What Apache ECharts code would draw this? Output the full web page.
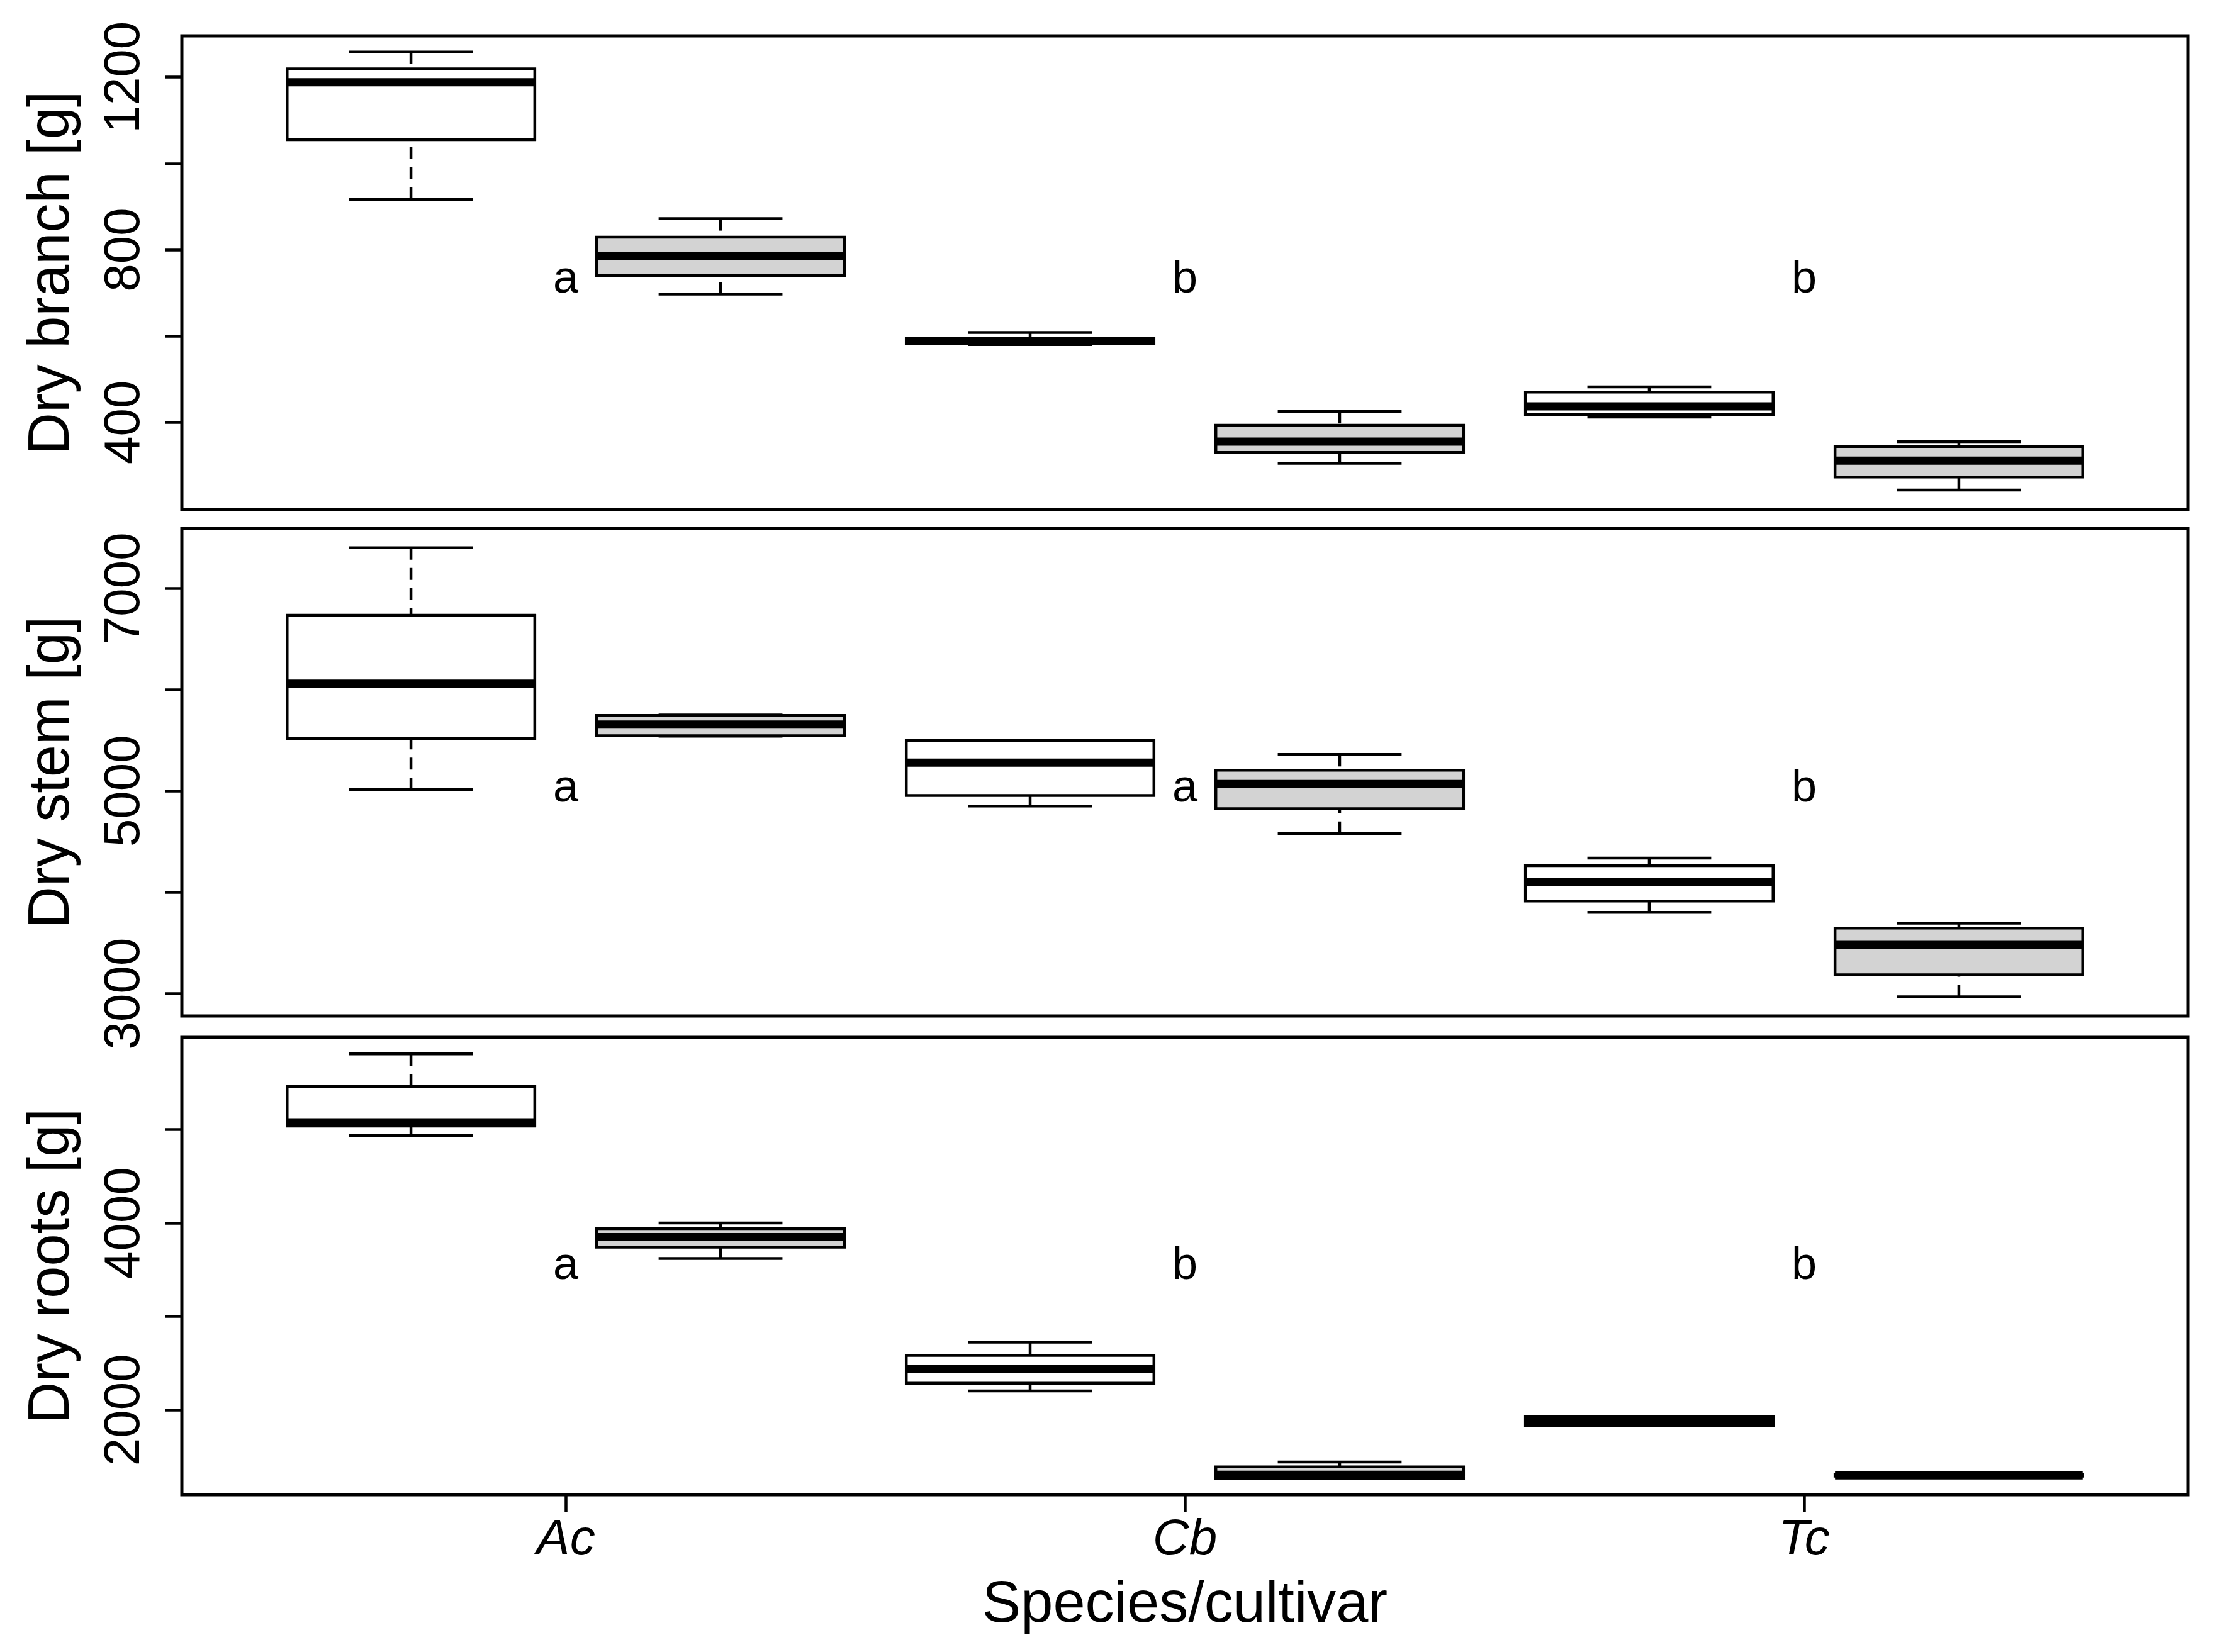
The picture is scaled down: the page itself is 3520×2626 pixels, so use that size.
<!DOCTYPE html>
<html><head><meta charset="utf-8">
<script src="https://cdn.jsdelivr.net/npm/echarts@6/dist/echarts.min.js"></script>
<style>html,body{margin:0;padding:0;background:#fff}#c{width:3520px;height:2626px}</style>
</head><body><div id="c"></div>
<script>
// ---- data ----
const species = ['Ac', 'Cb', 'Tc'];
const speciesPos = [1.5, 3.5, 5.5];          // group centres on the box axis
const boxPos = [1, 2, 3, 4, 5, 6];
const boxFill = [0, 1, 0, 1, 0, 1];          // 0 = white, 1 = light grey
// each box: [lower whisker, Q1, median, Q3, upper whisker]
const branchStats = [
  [917, 1055, 1188, 1219, 1258],
  [697, 740, 785, 829, 872],
  [580, 583, 589, 594, 608],
  [305, 330, 355, 393, 425],
  [412, 418, 437, 470, 482],
  [243, 273, 311, 344, 355]
];
const stemStats = [
  [5013, 5519, 6059, 6734, 7400],
  [5540, 5545, 5655, 5745, 5750],
  [4851, 4955, 5279, 5497, 5497],
  [4581, 4825, 5068, 5205, 5360],
  [3802, 3913, 4101, 4263, 4338],
  [2968, 3185, 3481, 3646, 3695]
];
const rootsStats = [
  [4935, 5035, 5075, 5458, 5807],
  [3620, 3741, 3848, 3939, 4000],
  [2203, 2285, 2436, 2583, 2725],
  [1265, 1270, 1306, 1391, 1443],
  [1828, 1828, 1879, 1930, 1930],
  [1290, 1292, 1300, 1308, 1310]
];
const branchLetters = ['a', 'b', 'b'];
const stemLetters = ['a', 'a', 'b'];
const rootsLetters = ['a', 'b', 'b'];
const letterY = [730, 5020, 3532];
const branchTicks = [400, 600, 800, 1000, 1200];
const branchTickLabels = [400, 800, 1200];
const stemTicks = [3000, 4000, 5000, 6000, 7000];
const stemTickLabels = [3000, 5000, 7000];
const rootsTicks = [2000, 3000, 4000, 5000];
const rootsTickLabels = [2000, 4000];
const yTitles = ['Dry branch [g]', 'Dry stem [g]', 'Dry roots [g]'];
const xTitle = 'Species/cultivar';

// ---- layout / style ----
const FONT = "'Liberation Sans', Arial, sans-serif";
const fills = ['#ffffff', '#d3d3d3'];
const LW = 4.5;
const panels = [
  {stats: branchStats, letters: branchLetters, ticks: branchTicks, labels: branchTickLabels, min: 197.7, max: 1295.7, top: 57, height: 753},
  {stats: stemStats, letters: stemLetters, ticks: stemTicks, labels: stemTickLabels, min: 2779, max: 7591, top: 840, height: 775},
  {stats: rootsStats, letters: rootsLetters, ticks: rootsTicks, labels: rootsTickLabels, min: 1093, max: 5984, top: 1649, height: 727}
];

function boxRender(params, api) {
  const x = api.value(0), lo = api.value(1), q1 = api.value(2), md = api.value(3), q3 = api.value(4), hi = api.value(5);
  const fill = fills[api.value(6)];
  const hw = 0.4, sw = 0.2;
  const a = api.coord([x - hw, q3]), b = api.coord([x + hw, q1]);
  const mL = api.coord([x - hw, md]), mR = api.coord([x + hw, md]);
  const cHi = api.coord([x, hi]), cQ3 = api.coord([x, q3]), cQ1 = api.coord([x, q1]), cLo = api.coord([x, lo]);
  const sHiL = api.coord([x - sw, hi]), sHiR = api.coord([x + sw, hi]);
  const sLoL = api.coord([x - sw, lo]), sLoR = api.coord([x + sw, lo]);
  const ln = {stroke: '#000', lineWidth: LW, lineCap: 'butt'};
  const dash = Object.assign({}, ln, {lineDash: [19, 13]});
  return {type: 'group', children: [
    {type: 'line', shape: {x1: cHi[0], y1: cHi[1], x2: cQ3[0], y2: cQ3[1]}, style: dash},
    {type: 'line', shape: {x1: cLo[0], y1: cLo[1], x2: cQ1[0], y2: cQ1[1]}, style: dash},
    {type: 'line', shape: {x1: sHiL[0], y1: sHiL[1], x2: sHiR[0], y2: sHiR[1]}, style: ln},
    {type: 'line', shape: {x1: sLoL[0], y1: sLoL[1], x2: sLoR[0], y2: sLoR[1]}, style: ln},
    {type: 'rect', shape: {x: a[0], y: a[1], width: b[0] - a[0], height: b[1] - a[1]}, style: {fill: fill, stroke: '#000', lineWidth: LW}},
    {type: 'line', shape: {x1: mL[0], y1: mL[1], x2: mR[0], y2: mR[1]}, style: {stroke: '#000', lineWidth: 13, lineCap: 'butt'}}
  ]};
}

function makeLetterRender(letters) {
  return function (params, api) {
    const p = api.coord([api.value(0), api.value(1)]);
    return {type: 'text', x: p[0], y: p[1], style: {
      text: letters[params.dataIndex], fill: '#000', fontSize: 72, fontFamily: FONT,
      align: 'center', verticalAlign: 'middle'}};
  };
}

const grids = [], xAxes = [], yAxes = [], series = [];
panels.forEach((pn, i) => {
  const last = i === panels.length - 1;
  grids.push({left: 289, top: pn.top, width: 3188, height: pn.height, show: true,
    borderColor: '#000', borderWidth: 5, backgroundColor: 'transparent', containLabel: false, outerBoundsMode: 'none'});
  xAxes.push({type: 'value', gridIndex: i, min: 0.26, max: 6.74,
    axisLine: {show: false}, splitLine: {show: false},
    axisTick: {show: last, customValues: speciesPos, length: 27, inside: false, lineStyle: {color: '#000', width: LW}},
    axisLabel: {show: last, customValues: speciesPos, margin: 33, color: '#000', fontSize: 80, fontStyle: 'italic', fontFamily: FONT,
      formatter: v => species[speciesPos.indexOf(v)] || ''},
    name: last ? xTitle : '', nameLocation: 'middle', nameGap: 131, nameMoveOverlap: false,
    nameTextStyle: {color: '#000', fontSize: 92, fontFamily: FONT}});
  yAxes.push({type: 'value', gridIndex: i, min: pn.min, max: pn.max,
    axisLine: {show: false}, splitLine: {show: false},
    axisTick: {show: true, customValues: pn.ticks, length: 27, inside: false, lineStyle: {color: '#000', width: LW}},
    axisLabel: {show: true, customValues: pn.labels, rotate: 90, margin: 50, color: '#000', fontSize: 80, fontFamily: FONT,
      formatter: v => String(v)},
    name: yTitles[i], nameLocation: 'middle', nameRotate: 90, nameGap: 159, nameMoveOverlap: false,
    nameTextStyle: {color: '#000', fontSize: 92, fontFamily: FONT}});
  series.push({type: 'custom', xAxisIndex: i, yAxisIndex: i, renderItem: boxRender, silent: true,
    data: boxPos.map((p, k) => [p].concat(pn.stats[k]).concat([boxFill[k]]))});
  series.push({type: 'custom', xAxisIndex: i, yAxisIndex: i, renderItem: makeLetterRender(pn.letters), silent: true,
    data: speciesPos.map(p => [p, letterY[i]])});
});

const chart = echarts.init(document.getElementById('c'), null, {renderer: 'canvas'});
chart.setOption({backgroundColor: '#fff', animation: false,
  grid: grids, xAxis: xAxes, yAxis: yAxes, series: series});
</script></body></html>
